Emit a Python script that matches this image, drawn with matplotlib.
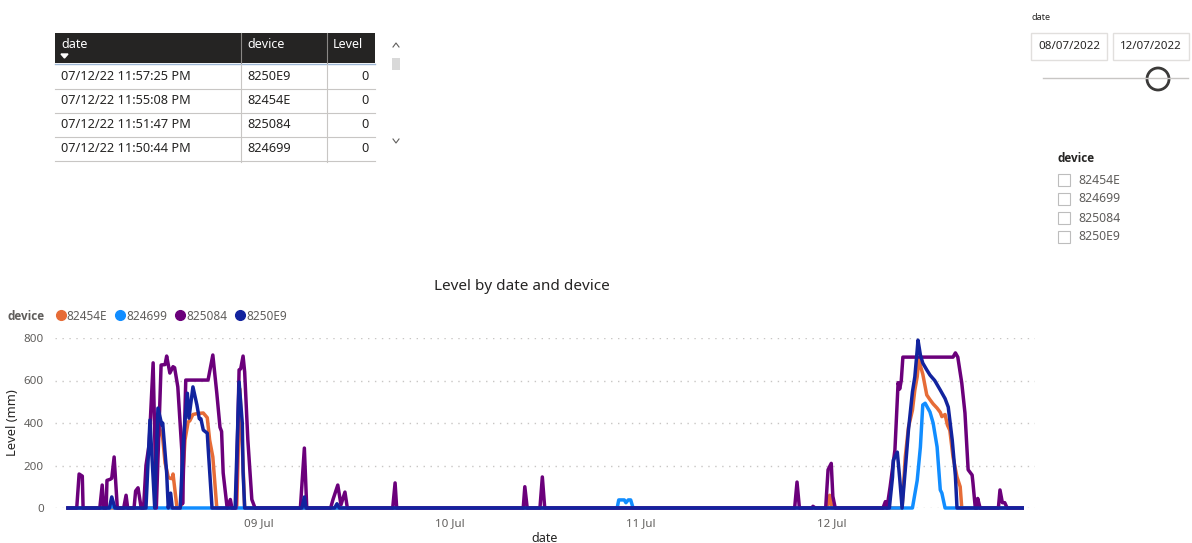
import matplotlib
matplotlib.use("Agg")
import matplotlib.pyplot as plt
import matplotlib.dates as mdates
from matplotlib.patches import Rectangle, Circle
from matplotlib.lines import Line2D
import pandas as pd

plt.rcParams['font.family'] = ['Noto Sans', 'DejaVu Sans']

# ---------------- data ----------------
devices = ["82454E", "824699", "825084", "8250E9"]
colors = ["#E66C37", "#118DFF", "#6B007B", "#12239E"]

# hours since 08 Jul 2022 00:00, level (mm)
h_82454E = [0.0, 10.9, 11.3, 11.7, 11.9, 12.2, 12.6, 12.8, 13.1, 13.2, 13.7, 14.2, 14.7, 15.1, 15.3, 15.7,
            16.3, 17.0, 17.5, 17.8, 18.2, 18.7, 21.2, 21.6, 22.0, 22.2, 95.4, 95.7, 96.0, 104.8, 105.2,
            105.6, 106.1, 106.4, 106.7, 106.9, 107.4, 107.9, 108.3, 108.7, 109.2, 109.6, 109.8, 110.2,
            110.5, 110.8, 111.2, 111.7, 112.1, 112.3, 119.9]
v_82454E = [0, 0, 400, 353, 330, 212, 146, 140, 138, 160, 0, 0, 320, 405, 410, 440,
            445, 447, 425, 320, 240, 0, 0, 560, 200, 0, 0, 60, 0, 0, 240,
            380, 460, 555, 618, 696, 630, 532, 510, 490, 470, 450, 430, 440,
            390, 365, 240, 146, 100, 0, 0]

h_824699 = [0.0, 5.3, 5.5, 5.8, 69.0, 69.2, 69.9, 70.1, 70.4, 70.7, 71.0, 106.1, 106.7, 107.1, 107.4,
            107.7, 108.3, 108.7, 109.2, 109.6, 109.8, 110.2, 119.9]
v_824699 = [0, 0, 20, 0, 0, 38, 38, 25, 38, 38, 0, 0, 130, 287, 485,
            493, 452, 400, 287, 85, 70, 0, 0]

h_825084 = [0.0, 1.1, 1.4, 1.8, 1.9, 4.0, 4.3, 4.5, 4.8, 4.9, 5.3, 5.5, 5.8, 6.2, 7.0, 7.3, 7.5, 8.3,
            8.5, 8.8, 9.2, 9.5, 9.8, 10.2, 10.7, 11.1, 11.7, 12.2, 12.4, 12.8, 13.2, 13.4, 13.8, 14.3,
            14.4, 14.8, 17.6, 18.2, 18.7, 19.1, 19.3, 19.5, 20.0, 20.4, 20.6, 21.1, 21.5, 21.7, 22.0,
            22.2, 22.6, 23.1, 23.5, 29.2, 29.7, 30.0, 33.0, 33.3, 33.9, 34.3, 34.8, 35.1, 40.8, 41.1,
            41.3, 57.2, 57.4, 57.7, 59.3, 59.6, 59.9, 91.3, 91.6, 91.9, 93.5, 93.6, 93.9, 95.2, 95.5,
            95.9, 96.1, 96.4, 102.4, 102.7, 102.9, 103.3, 103.9, 104.3, 104.5, 104.7, 104.9, 111.2,
            111.5, 111.8, 112.3, 112.7, 113.1, 113.6, 113.7, 114.0, 114.2, 114.3, 114.6, 116.9, 117.1,
            117.4, 117.7, 118.0, 119.9]
v_825084 = [0, 0, 160, 150, 0, 0, 108, 0, 0, 130, 135, 140, 240, 0, 0, 60, 0, 0,
            80, 95, 0, 0, 200, 300, 683, 0, 673, 675, 715, 635, 665, 660, 570, 273,
            20, 602, 602, 720, 540, 380, 360, 165, 0, 40, 0, 0, 650, 655, 715,
            640, 320, 40, 0, 0, 282, 0, 0, 40, 108, 15, 75, 0, 0, 118,
            0, 0, 100, 0, 0, 146, 0, 0, 122, 0, 0, 8, 0, 0, 180,
            210, 55, 0, 0, 30, 0, 100, 273, 590, 560, 600, 710, 710,
            730, 710, 588, 447, 180, 155, 120, 0, 0, 45, 0, 0, 85,
            25, 25, 0, 0]

h_8250E9 = [0.0, 5.2, 5.5, 5.9, 9.8, 10.3, 10.7, 10.9, 11.3, 11.8, 11.9, 12.4, 12.6, 12.9, 13.1, 14.1,
            14.5, 15.0, 15.2, 15.7, 16.2, 16.5, 16.7, 17.0, 17.5, 17.6, 18.1, 21.0, 21.5, 21.9, 22.0,
            22.2, 29.4, 29.7, 29.9, 33.5, 33.8, 34.1, 103.2, 103.6, 103.7, 104.2, 104.5, 104.8, 105.2,
            105.6, 106.1, 106.4, 106.7, 106.8, 107.1, 107.4, 107.9, 108.3, 108.9, 109.6, 110.2, 110.6,
            111.1, 111.5, 111.7, 119.9]
v_8250E9 = [0, 0, 52, 0, 0, 414, 140, 0, 470, 390, 400, 165, 0, 70, 0, 0,
            320, 540, 423, 570, 485, 420, 420, 367, 352, 290, 0, 0, 593, 400, 170,
            0, 0, 52, 0, 0, 20, 0, 0, 146, 225, 263, 140, 0, 180,
            367, 546, 617, 744, 790, 720, 682, 650, 626, 600, 555, 515, 475,
            320, 150, 0, 0]

series_h = [h_82454E, h_824699, h_825084, h_8250E9]
series_v = [v_82454E, v_824699, v_825084, v_8250E9]

table_cols = ["date", "device", "Level"]
table_dates = ["07/12/22 11:57:25 PM", "07/12/22 11:55:08 PM", "07/12/22 11:51:47 PM", "07/12/22 11:50:44 PM"]
table_devices = ["8250E9", "82454E", "825084", "824699"]
table_levels = [0, 0, 0, 0]

slicer_start = "08/07/2022"
slicer_end = "12/07/2022"
x_ticks = ["2022-07-09", "2022-07-10", "2022-07-11", "2022-07-12"]
y_ticks = [0, 200, 400, 600, 800]

base = pd.Timestamp("2022-07-08")

# ---------------- figure ----------------
W, H = 1192, 543
fig = plt.figure(figsize=(W / 100, H / 100), dpi=100)
fig.patch.set_facecolor("white")

ov = fig.add_axes([0, 0, 1, 1], zorder=0)
ov.set_xlim(0, W)
ov.set_ylim(H, 0)
ov.axis("off")

TXT = "#252423"
GRAY = "#605E5C"
BOLD = ["Open Sans", "DejaVu Sans"]

# ---- table ----
tx0, tx1 = 55, 375
colx = [55, 241, 327, 375]
ov.add_patch(Rectangle((tx0, 33), tx1 - tx0, 30, facecolor="#252423", edgecolor="none"))
for cx in colx[1:3]:
    ov.plot([cx, cx], [33, 63], color="#8a8886", lw=0.8)
ov.text(61, 44, table_cols[0], color="white", fontsize=9, va="center", ha="left")
ov.fill([61, 68, 64.5], [54, 54, 58], color="white")
ov.text(247, 44, table_cols[1], color="white", fontsize=9, va="center", ha="left")
ov.text(333, 44, table_cols[2], color="white", fontsize=9, va="center", ha="left")
ov.plot([tx0, tx1], [64, 64], color="#9fb8d6", lw=1)
row_h = 24
for i in range(len(table_dates)):
    yc = 77 + i * row_h
    ov.text(61, yc, table_dates[i], color=TXT, fontsize=9.2, va="center", ha="left")
    ov.text(247, yc, table_devices[i], color=TXT, fontsize=9.2, va="center", ha="left")
    ov.text(369, yc, str(table_levels[i]), color=TXT, fontsize=9.2, va="center", ha="right")
    ov.plot([tx0, tx1], [yc + 12, yc + 12], color="#c8c6c4", lw=0.8)
for cx in colx[1:3]:
    ov.plot([cx, cx], [64, 162], color="#c8c6c4", lw=0.8)
# scrollbar
ov.plot([393, 396, 399], [47, 43, 47], color="#605E5C", lw=0.8)
ov.add_patch(Rectangle((392, 58), 8, 12, facecolor="#d9d9d9", edgecolor="none"))
ov.plot([393, 396, 399], [139, 143, 139], color="#605E5C", lw=0.8)

# ---- date slicer ----
ov.text(1031, 18, "date", color=TXT, fontsize=6.5, va="center", ha="left")
for bx, label in [(1031, slicer_start), (1113, slicer_end)]:
    ov.add_patch(Rectangle((bx, 33), 76, 27, facecolor="white", edgecolor="#e1dfdd", lw=1))
    ov.text(bx + 38, 46.5, label, color=TXT, fontsize=8.3, va="center", ha="center")
ov.plot([1043, 1188], [78, 78], color="#c8c6c4", lw=1)
ov.add_patch(Circle((1160, 79), 10.5, facecolor="#dcdcdc", edgecolor="none", alpha=0.8))
ov.add_patch(Circle((1158, 79), 11, facecolor="white", edgecolor="#3b3a39", lw=2))

# ---- device slicer ----
ov.text(1057, 159, "device", color=TXT, fontsize=8.5, va="center", ha="left",
        fontweight="bold", family=BOLD)
for i, d in enumerate(devices):
    yc = 180 + i * 19
    ov.add_patch(Rectangle((1058, yc - 6), 12, 12, facecolor="white", edgecolor="#bdbdbd", lw=0.8))
    ov.text(1078, yc, d, color=GRAY, fontsize=8.8, va="center", ha="left")

# ---------------- chart ----------------
ax_l, ax_r, ax_t, ax_b = 55, 1035, 338, 508
ax = fig.add_axes([ax_l / W, 1 - ax_b / H, (ax_r - ax_l) / W, (ax_b - ax_t) / H], zorder=1)
ax.patch.set_alpha(0)

for hs, vs, c in zip(series_h, series_v, colors):
    t = base + pd.to_timedelta(hs, unit="h")
    ax.plot(t, vs, color=c, lw=2.5, solid_joinstyle="round", clip_on=False)

ax.set_xlim(base - pd.Timedelta(hours=1.63), base + pd.Timedelta(hours=121.5))
ax.set_ylim(0, 800)
ax.set_yticks(y_ticks)
ax.set_xticks(pd.to_datetime(x_ticks))
ax.xaxis.set_major_formatter(mdates.DateFormatter("%d %b"))
for s in ax.spines.values():
    s.set_visible(False)
ax.tick_params(length=0, colors=GRAY, labelsize=8.3)
ax.tick_params(axis="y", pad=8)
ax.tick_params(axis="x", pad=7)
ax.grid(axis="y", color="#c8c6c4", linestyle=(0, (1, 4)), lw=1)
ax.set_axisbelow(True)
ax.set_ylabel("Level (mm)", color=TXT, fontsize=9.3, labelpad=3)
ax.set_xlabel("date", color=TXT, fontsize=9, labelpad=2)

fig.text(522 / W, 1 - 286 / H, "Level by date and device", color=TXT, fontsize=11,
         ha="center", va="center")
fig.text(7 / W, 1 - 316 / H, "device", color=GRAY, fontsize=8.5, fontweight="bold",
         family=BOLD, ha="left", va="center")
handles = [Line2D([], [], marker="o", linestyle="", color=c, markersize=7) for c in colors]
leg = fig.legend(handles, devices, loc="center left", bbox_to_anchor=(55 / W, 1 - 316 / H),
                 ncol=4, frameon=False, handletextpad=0.0, columnspacing=0.6, handlelength=1.0,
                 borderpad=0, borderaxespad=0, fontsize=8.5)
for t in leg.get_texts():
    t.set_color(GRAY)

fig.savefig("out.png", dpi=100, facecolor="white")
